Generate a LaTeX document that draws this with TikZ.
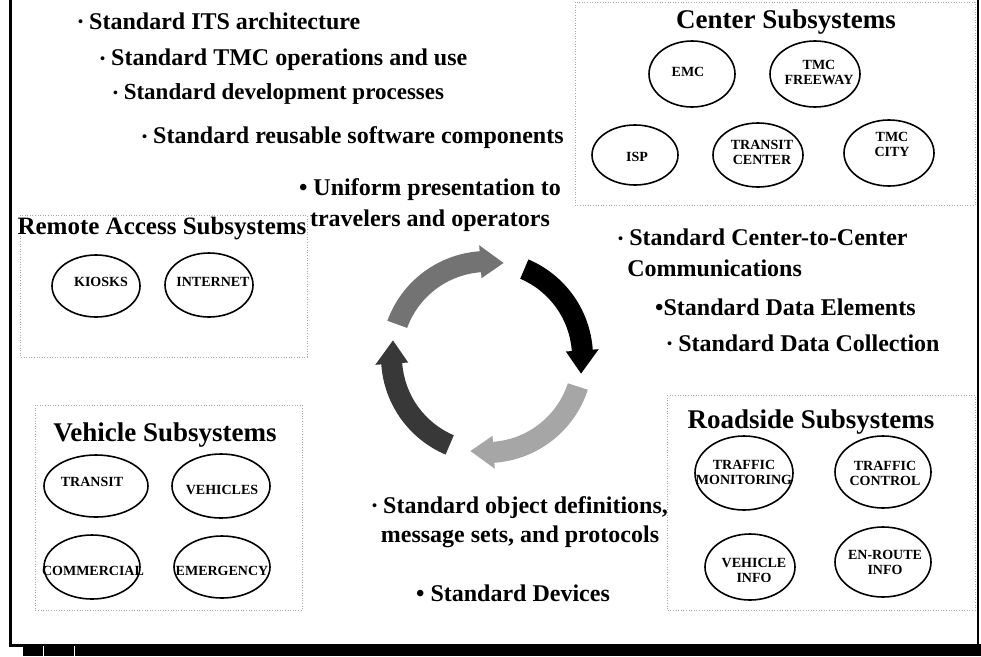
\documentclass[tikz,border=0pt]{standalone}
\usepackage{fontspec}
\setmainfont{Liberation Serif}
\usetikzlibrary{shapes}

% small centred dot used in front of some of the points
\newcommand{\smalldot}{\raisebox{0.1em}{\scalebox{0.6}{\textbullet}}}

\begin{document}
\begin{tikzpicture}[x=1pt,y=1pt,
  oval/.style 2 args={draw, ellipse, line width=1.6pt, inner sep=0pt,
    minimum width=#1, minimum height=#2},
  ovaltext/.style={font=\fontsize{14}{15}\selectfont\bfseries, align=center, inner sep=0pt},
  point/.style={font=\fontsize{24}{31}\selectfont\bfseries, inner sep=0pt},
  heading/.style={font=\fontsize{27}{30}\selectfont\bfseries, inner sep=0pt},
  groupbox/.style={draw=black!35, dotted, line width=0.6pt}]
 \useasboundingbox (0,0) rectangle (981,-656);

 % frame
 \draw[line width=3pt] (10,0) -- (10,-645) -- (981,-645);
 \draw[line width=1.2pt] (978,0) -- (978,-645);
 \fill[black] (23,-645) rectangle (981,-656);
 \draw[white, line width=1pt] (43,-646) -- (43,-656);
 \draw[white, line width=1pt] (74,-646) -- (74,-656);

 % group boxes
 \draw[groupbox] (575,-2) rectangle (975,-205);
 \draw[groupbox] (20,-215) rectangle (307,-357);
 \draw[groupbox] (35,-405) rectangle (302,-610);
 \draw[groupbox] (667,-395) rectangle (975,-610);

 % standards
 \node[point, anchor=west] (its) at (78,-21) {\smalldot\ Standard ITS architecture};
 \node[point, anchor=west] (tmcops) at (100,-60) {\smalldot\ Standard TMC operations and use};
 \node[point, anchor=west, font=\fontsize{23}{28}\selectfont\bfseries] (devproc) at (113,-94) {\smalldot\ Standard development processes};
 \node[point, anchor=west] (reuse) at (142,-138) {\smalldot\ Standard reusable software components};
 \node[point, align=center] (uniform) at (430,-205) {\textbullet\ Uniform presentation to\\travelers and operators};
 \node[point, anchor=west, align=left] (c2c) at (618,-253) {\smalldot\ Standard Center-to-Center\\\hphantom{\smalldot\,}Communications};
 \node[point, anchor=west] (elements) at (655,-307) {\textbullet Standard Data Elements};
 \node[point, anchor=west] (collect) at (667,-343) {\smalldot\ Standard Data Collection};
 \node[point, align=center, font=\fontsize{24}{29}\selectfont\bfseries] (objdefs) at (520,-522) {\smalldot\ Standard object definitions,\\message sets, and protocols};
 \node[point] (devices) at (513,-593) {\textbullet\ Standard Devices};

 % center subsystems
 \node[heading] (center) at (786,-22) {Center Subsystems};
 \node[oval={86pt}{66pt}] (emc) at (692,-74) {};
 \node[ovaltext] (emc-t) at (688,-72) {EMC};
 \node[oval={90pt}{66pt}] (tmcf) at (815,-74) {};
 \node[ovaltext] (tmcf-t) at (819,-72) {TMC\\FREEWAY};
 \node[oval={86pt}{60pt}] (isp) at (635,-155) {};
 \node[ovaltext] (isp-t) at (637,-157) {ISP};
 \node[oval={90pt}{64pt}] (trc) at (758,-155) {};
 \node[ovaltext] (trc-t) at (762,-152) {TRANSIT\\CENTER};
 \node[oval={90pt}{66pt}] (tmcc) at (889,-153) {};
 \node[ovaltext] (tmcc-t) at (892,-144) {TMC\\CITY};

 % remote access subsystems
 \node[heading, font=\fontsize{25}{28}\selectfont\bfseries] (remote) at (162,-229) {Remote Access Subsystems};
 \node[oval={88pt}{62pt}] (kiosk) at (96,-286) {};
 \node[ovaltext] (kiosk-t) at (101,-282) {KIOSKS};
 \node[oval={88pt}{64pt}] (inet) at (209,-285) {};
 \node[ovaltext] (inet-t) at (213,-282) {INTERNET};

 % vehicle subsystems
 \node[heading] (vehicle) at (165,-435) {Vehicle Subsystems};
 \node[oval={104pt}{62pt}] (transit) at (96,-486) {};
 \node[ovaltext] (transit-t) at (92,-482) {TRANSIT};
 \node[oval={98pt}{64pt}] (vehs) at (221,-486) {};
 \node[ovaltext] (vehs-t) at (222,-490) {VEHICLES};
 \node[oval={96pt}{64pt}] (comm) at (92,-567) {};
 \node[ovaltext] (comm-t) at (93,-571) {COMMERCIAL};
 \node[oval={96pt}{62pt}] (emerg) at (222,-567) {};
 \node[ovaltext] (emerg-t) at (222,-571) {EMERGENCY};

 % roadside subsystems
 \node[heading] (roadside) at (811,-422) {Roadside Subsystems};
 \node[oval={98pt}{74pt}] (tmon) at (744,-473) {};
 \node[ovaltext] (tmon-t) at (744,-472) {TRAFFIC\\MONITORING};
 \node[oval={96pt}{72pt}] (tctl) at (883,-472) {};
 \node[ovaltext] (tctl-t) at (885,-473) {TRAFFIC\\CONTROL};
 \node[oval={90pt}{66pt}] (vinfo) at (750,-567) {};
 \node[ovaltext] (vinfo-t) at (754,-570) {VEHICLE\\INFO};
 \node[oval={96pt}{70pt}] (enroute) at (883,-562) {};
 \node[ovaltext] (enroute-t) at (885,-562) {EN-ROUTE\\INFO};

 % the cycle
 \coordinate (hub) at (487,-357);
 \begin{scope}[shift={(hub)}]
  \foreach \s/\e/\c in {160/80/black!55, 67/-10/black, -18/-100/black!35, 247/170/black!78} {
   \pgfmathsetmacro\m{\e+14}
   \fill[\c] (\s:106pt) arc[start angle=\s, end angle=\m, radius=106pt]
     -- (\m:112pt) -- (\e:95.5pt) -- (\m:79pt) -- (\m:85pt)
     arc[start angle=\m, end angle=\s, radius=85pt] -- cycle;
  }
 \end{scope}
\end{tikzpicture}
\end{document}
